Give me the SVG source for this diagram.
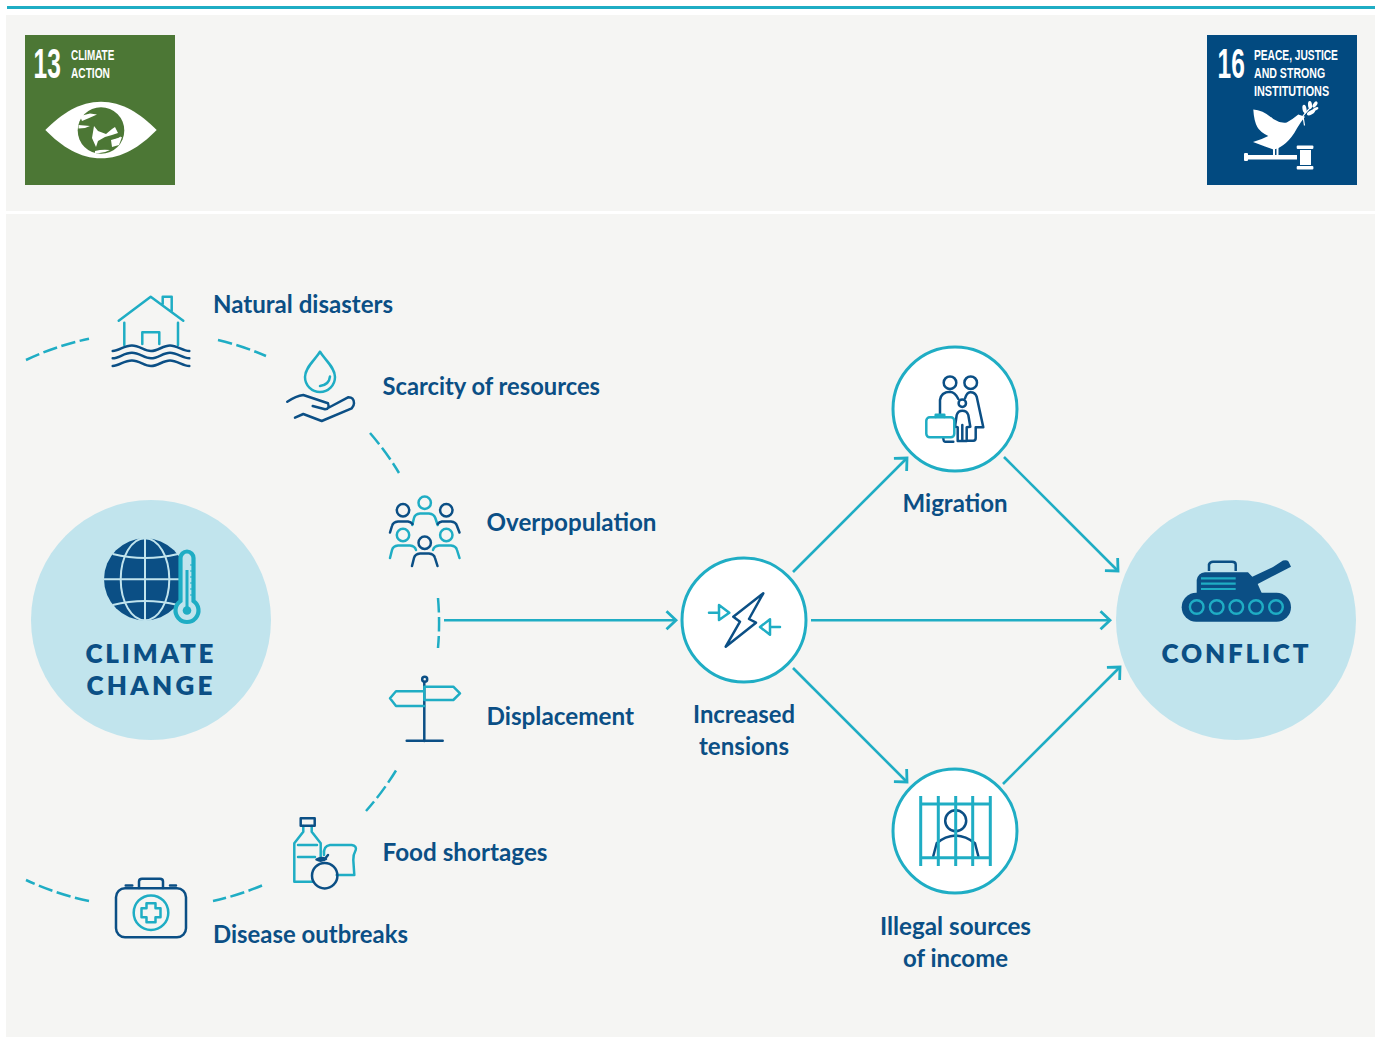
<svg xmlns="http://www.w3.org/2000/svg" width="1377" height="1038" viewBox="0 0 1377 1038">
<style>
.lb{font-family:"Lato","Noto Sans",sans-serif;font-weight:700;font-size:25px;fill:#0b4f85}
.cap{font-family:"Lato","Liberation Sans",sans-serif;font-weight:800;font-size:26px;fill:#0b4f85}
.sdg{font-family:"Liberation Sans",sans-serif;fill:#fff;font-size:15.5px;font-weight:700}
.num{font-family:"Liberation Sans",sans-serif;fill:#fff;font-size:43px;font-weight:700}
.t{fill:none;stroke:#1fadc4;stroke-width:2.5;stroke-linecap:round;stroke-linejoin:round}
.n{fill:none;stroke:#0b4f85;stroke-width:2.5;stroke-linecap:round;stroke-linejoin:round}
.ring{fill:#fff;stroke:#1fadc4;stroke-width:3}
.big{fill:#c1e4ed}
.edge{fill:none;stroke:#1fadc4;stroke-width:2.6}
.dash{fill:none;stroke:#1fadc4;stroke-width:2.5;stroke-dasharray:14.5 4.5}
</style>
<defs>
<marker id="arr" markerUnits="userSpaceOnUse" markerWidth="20" markerHeight="24" refX="17" refY="12" orient="auto">
<path d="M7.500 3L17 12L7.500 21" fill="none" stroke="#1fadc4" stroke-width="2.800"/>
</marker>
</defs>
<rect width="1377" height="1038" fill="#fff"/>
<rect x="7" y="6" width="1368" height="3" fill="#1fadc4"/>
<rect x="6" y="15" width="1369" height="196" fill="#f5f5f3"/>
<rect x="6" y="214" width="1369" height="823" fill="#f5f5f3"/>

<g id="sdg13">
<rect x="25" y="35" width="150" height="150" fill="#4c7735"/>
<text class="num" transform="translate(33.500 77.500) scale(.57 1)">13</text>
<text class="sdg" transform="translate(71 59.500) scale(.639 1)">CLIMATE</text>
<text class="sdg" transform="translate(71 77.500) scale(.656 1)">ACTION</text>
<path d="M45.300 130C62 113 80 101.700 101 101.700C122 101.700 140 113 156.700 130C140 147 122 158.300 101 158.300C80 158.300 62 147 45.300 130Z" fill="#fff"/>
<circle cx="101" cy="130.500" r="23.300" fill="#4c7735"/>
<path d="M80 116L90 113.500L97 114.500L88 118.500L82 121ZM78.500 125L90 126L85 128L78.500 128.500ZM94 126L98 131L106 134L112 129L115 127L118 133L112 135L105 137L98 141L96 147L92 138ZM95 151Q102 149 110 150Q103 154 95 153ZM111 140L122 137L119 145L112 147Z" fill="#fff"/>
<path d="M112 141Q118 139 121 137" fill="none" stroke="#fff" stroke-width="1"/>
</g>

<g id="sdg16">
<rect x="1207" y="35" width="150" height="150" fill="#024a80"/>
<text class="num" transform="translate(1217.500 77.500) scale(.57 1)">16</text>
<text class="sdg" transform="translate(1254 59.500) scale(.659 1)">PEACE, JUSTICE</text>
<text class="sdg" transform="translate(1254 77.500) scale(.683 1)">AND STRONG</text>
<text class="sdg" transform="translate(1254 95.500) scale(.698 1)">INSTITUTIONS</text>
<path d="M1253.300 109.500Q1263 110 1273.300 119Q1280 123.500 1286.700 122.500Q1293 119 1298.300 114.500L1305 116.700L1301 122Q1297 128 1294.300 133Q1289 141 1283.300 145Q1278 149 1273.300 149.500L1265 146.500L1253 142L1261.700 139L1268.300 136Q1260 132 1257.300 127Q1254 121 1253.300 109.500Z" fill="#fff"/>
<path d="M1274 147V156M1277.500 147V156" stroke="#fff" stroke-width="2"/>
<path d="M1304.500 125.500L1303 116Q1306 112 1312 106" fill="none" stroke="#fff" stroke-width="1.200"/>
<g fill="#fff"><ellipse cx="1304.500" cy="109" rx="2" ry="4.200" transform="rotate(-10 1304.500 109)"/><ellipse cx="1310" cy="105" rx="2" ry="4" transform="rotate(-5 1310 105)"/><ellipse cx="1315" cy="104.500" rx="1.800" ry="3.500" transform="rotate(35 1315 104.500)"/><ellipse cx="1311" cy="112.500" rx="2" ry="4.500" transform="rotate(60 1311 112.500)"/><ellipse cx="1315.500" cy="109" rx="1.500" ry="3.200" transform="rotate(65 1315.500 109)"/></g>
<rect x="1245" y="155" width="52" height="4.500" fill="#fff"/>
<rect x="1244" y="153" width="4" height="8" rx="1" fill="#fff"/>
<rect x="1296.700" y="145.500" width="16.700" height="3.500" rx="1" fill="#fff"/>
<rect x="1300" y="150" width="11" height="15" fill="#fff"/>
<rect x="1296.700" y="166" width="16.700" height="3.500" rx="1" fill="#fff"/>
</g>

<g id="connectors">
<path class="dash" d="M26 360A288 288 0 0 1 89 338.700"/>
<path class="dash" d="M218 340A288 288 0 0 1 266 356"/>
<path class="dash" d="M370 433A288 288 0 0 1 399 473"/>
<path class="dash" d="M438 598A288 288 0 0 1 438 648"/>
<path class="dash" d="M396 770.500A288 288 0 0 1 366 811"/>
<path class="dash" d="M262 885.500A288 288 0 0 1 213 901"/>
<path class="dash" d="M89 901A288 288 0 0 1 26 880"/>
<path class="edge" d="M444 620.300H676" marker-end="url(#arr)"/>
<path class="edge" d="M811 620.300H1110" marker-end="url(#arr)"/>
<path class="edge" d="M793 572L907 458" marker-end="url(#arr)"/>
<path class="edge" d="M793 668L907 782" marker-end="url(#arr)"/>
<path class="edge" d="M1004 457L1118 571" marker-end="url(#arr)"/>
<path class="edge" d="M1003 784L1120 667" marker-end="url(#arr)"/>
</g>

<g id="climate-change">
<circle class="big" cx="151" cy="620" r="120"/>
<circle cx="145" cy="579.300" r="41" fill="#0b4f85"/>
<g fill="none" stroke="#c1e4ed" stroke-width="2">
<path d="M104 579.300H186M145 538V620.500"/>
<ellipse cx="145" cy="579.300" rx="24.300" ry="41"/>
<path d="M112.700 554Q145 562 178 554M112.700 605Q145 597 178 605"/>
</g>
<path d="M180.500 601V558a6.500 6.500 0 0 1 13 0V601a11.500 11.500 0 1 1 -13 0Z" fill="#c1e4ed" stroke="#1fadc4" stroke-width="4.200"/>
<path d="M187 570V610" stroke="#1fadc4" stroke-width="3"/>
<circle cx="187" cy="610.500" r="4.300" fill="#1fadc4"/>
<path d="M190 565h2M190 571h2M190 577h2M190 583h2M190 589h2M190 595h2" stroke="#1fadc4" stroke-width="1.200"/>
<text class="cap" x="85.500" y="662.500" textLength="128">CLIMATE</text>
<text class="cap" x="86.500" y="694.500" textLength="126">CHANGE</text>
</g>

<g id="natural-disasters">
<path class="t" d="M118.700 320.700L150.700 296.700L183.300 320.700M162.700 304V296.700H171.700V310.700M124.300 322.700V345M178 322.700V345M142.300 344V332.300H159.300V344"/>
<g class="n">
<path d="M112.700 351C119 351 124 345.500 131.900 345.500S144 351 151 351S163 345.500 170 345.500S183 351 189.300 351"/>
<path d="M112.700 358.300C119 358.300 124 352.800 131.900 352.800S144 358.300 151 358.300S163 352.800 170 352.800S183 358.300 189.300 358.300"/>
<path d="M112.700 366C119 366 124 360.500 131.900 360.500S144 366 151 366S163 360.500 170 360.500S183 366 189.300 366"/>
</g>
<text class="lb" x="213" y="313" textLength="180" lengthAdjust="spacingAndGlyphs">Natural disasters</text>
</g>

<g id="scarcity">
<path class="t" d="M320 351.700C316 359 305 367 305 377A15 15 0 0 0 335 377C335 367 324 359 320 351.700ZM320 386Q329 385 330 376.500"/>
<path class="n" d="M287.300 401.700Q296 396 303.300 395L328 403.300Q330 409 325 409.300L312.700 406M328 408L348 397.300Q354 397 354 403.300Q354 406 351.700 408.300L321.700 421L303.300 414L295 417.700"/>
<text class="lb" x="382.500" y="395" textLength="217.500" lengthAdjust="spacingAndGlyphs">Scarcity of resources</text>
</g>

<g id="overpopulation">
<g class="t">
<circle cx="424.700" cy="502.700" r="6.200"/><circle cx="403" cy="535" r="6.200"/><circle cx="446.300" cy="535" r="6.200"/>
<path d="M412.300 525L414 518Q415 514 420 513.500H429Q434 514 435.300 518L437.700 525M390 558L392 550Q393 546 398 545.500H410Q415 546 416 550M433 550Q434 546 439 545.500H451Q456 546 457 550L459.500 558"/>
</g>
<g class="n">
<circle cx="403" cy="510.300" r="6.200"/><circle cx="446.300" cy="510.300" r="6.200"/><circle cx="424.700" cy="542.700" r="6.200"/>
<path d="M390 532.500L392 526Q393 522 398 521.500H408Q411 522 412.500 524M437.700 524Q439 522 442 521.500H451Q456 522 457 526L459.500 532.500M412 566L414 558Q415 554 420 553.500H429Q434 554 435 558L437.500 566"/>
</g>
<text class="lb" x="486.500" y="531" textLength="170" lengthAdjust="spacingAndGlyphs">Overpopulation</text>
</g>

<g id="displacement">
<path class="n" d="M424.300 682V741M406.700 740.700H442.700"/>
<circle class="n" cx="424.700" cy="679.300" r="2.500"/>
<path class="t" d="M424.300 686.700H453.300L460 693.300L453.300 700H424.300ZM424.300 691.300H396L390 698.300L396 706H424.300"/>
<text class="lb" x="486.500" y="725" textLength="147.500" lengthAdjust="spacingAndGlyphs">Displacement</text>
</g>

<g id="food-shortages">
<path class="t" d="M320.700 860V843.300L311.700 831.700V826M303.300 826V831.700L294.300 843.300V881.700H313.300M298 845H317M298 857H315M324 855Q323 846 330 845H351.700Q357 846 355.700 850Q353 855 353.300 860L354.300 875H336.700"/>
<rect class="n" x="300.700" y="818.300" width="14" height="7.400"/>
<circle class="n" cx="324.700" cy="875.700" r="12.700"/>
<path class="n" d="M316.500 859.500Q321 857 326 859Q321 862 316.500 859.500ZM324 860L328 855"/>
<text class="lb" x="382.500" y="861" textLength="165" lengthAdjust="spacingAndGlyphs">Food shortages</text>
</g>

<g id="disease-outbreaks">
<rect class="n" x="116" y="888.300" width="70" height="49" rx="9"/>
<path class="n" d="M139 888V881.500Q139 878.700 142 878.700H160Q163 878.700 163 881.500V888M125.700 885.500H132.300M170 885.500H176"/>
<circle class="t" cx="151" cy="912.700" r="17.300"/>
<path class="t" d="M146.500 903.200H155.500V908.200H160.500V917.200H155.500V922.200H146.500V917.200H141.500V908.200H146.500Z"/>
<text class="lb" x="213" y="943" textLength="195" lengthAdjust="spacingAndGlyphs">Disease outbreaks</text>
</g>

<g id="increased-tensions">
<circle class="ring" cx="744" cy="620" r="62"/>
<path class="n" d="M763.300 593.300L733.300 616.700L740 621.700L725.700 646.700L756 622.700L749 619Z"/>
<path class="t" d="M709 612.700H719M719 605L729.300 612.700L719 620ZM780 627H770M770 619.300L760 627L770 634.700Z"/>
<text class="lb" x="744" y="723" text-anchor="middle" textLength="102" lengthAdjust="spacingAndGlyphs">Increased</text>
<text class="lb" x="744" y="755" text-anchor="middle" textLength="90" lengthAdjust="spacingAndGlyphs">tensions</text>
</g>

<g id="migration">
<circle class="ring" cx="955" cy="409" r="62"/>
<g class="n">
<circle cx="950" cy="382.700" r="6.300"/><circle cx="970.700" cy="382.700" r="6.300"/><circle cx="962.300" cy="403.300" r="3.700"/>
<path d="M958.300 399Q955 392 950 391.700Q941 392 940 400V415M965 398.300Q967 392.500 970 392.300Q975 392 976.700 396.700L983.300 427.300H975.700V438Q975.700 440.700 973.300 440.700H967.700M943.300 438Q943.500 441.700 945 441.700H953.300"/>
<path d="M955 426.700L956.700 415Q958 410.700 962.300 410.700Q967 410.700 968.300 415L970.300 426.700L966.700 427.300V441H957.700V427.300ZM962.300 425V441"/>
</g>
<rect class="t" x="926.300" y="417.300" width="28" height="20" rx="3.500"/>
<path class="t" d="M935.700 417V414.700H944.300V417"/>
<text class="lb" x="955" y="512" text-anchor="middle" textLength="105" lengthAdjust="spacingAndGlyphs">Migration</text>
</g>

<g id="illegal-income">
<circle class="ring" cx="955" cy="831" r="62"/>
<g class="n">
<circle cx="955.700" cy="820.700" r="10.500"/>
<path d="M933.300 856L936.700 843.300Q945 836 955.700 835.500Q966 836 975 843.300L978.300 856"/>
</g>
<path d="M920.700 796V866M938.300 796V866M955.700 796V866M972.700 796V866M990.300 796V866M920.700 804H990.300M920.700 857.700H990.300" fill="none" stroke="#1fadc4" stroke-width="3"/>
<text class="lb" x="955.500" y="935" text-anchor="middle" textLength="151" lengthAdjust="spacingAndGlyphs">Illegal sources</text>
<text class="lb" x="955.500" y="967" text-anchor="middle" textLength="105" lengthAdjust="spacingAndGlyphs">of income</text>
</g>

<g id="conflict">
<circle class="big" cx="1236" cy="620" r="120"/>
<rect x="1181.700" y="592.700" width="109.300" height="29" rx="14.500" fill="#0b4f85"/>
<path d="M1196.700 596V580Q1198 573 1205 572.300H1248L1252.300 576.700L1273 567L1283 560.500Q1287 559.500 1288.500 561.500L1291 566.700L1275 575L1257.700 584L1263 596Z" fill="#0b4f85"/>
<path d="M1209 571V564.500Q1210 561.700 1213 561.700H1232Q1235.700 561.700 1235.700 564.500V571" fill="none" stroke="#0b4f85" stroke-width="2.500"/>
<path d="M1201 578.300H1235.700M1201 583.700H1235.700M1201 589H1235.700" stroke="#1fadc4" stroke-width="2.200"/>
<g fill="none" stroke="#1fadc4" stroke-width="2.400">
<circle cx="1196.700" cy="607" r="6.800"/><circle cx="1216.700" cy="607" r="6.800"/><circle cx="1236.300" cy="607" r="6.800"/><circle cx="1256" cy="607" r="6.800"/><circle cx="1276" cy="607" r="6.800"/>
</g>
<text class="cap" x="1161.500" y="662.500" textLength="147">CONFLICT</text>
</g>
</svg>
